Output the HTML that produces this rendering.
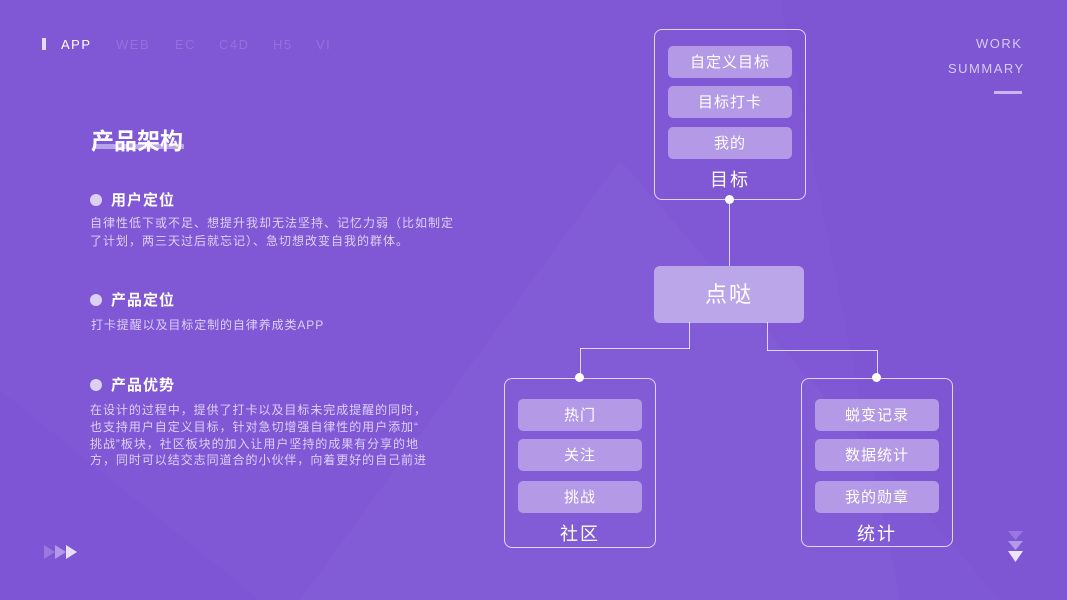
<!DOCTYPE html>
<html><head><meta charset="utf-8"><style>
*{margin:0;padding:0;box-sizing:border-box}
body{width:1067px;height:600px;overflow:hidden;background:#8058d6;font-family:"Liberation Sans","Noto Sans CJK SC",sans-serif;position:relative;color:#fff}
.a{position:absolute}
.box{position:absolute;border:1px solid rgba(255,255,255,.75);border-radius:8px}
.it{position:absolute;width:124px;height:32px;background:#b399e6;border-radius:5px;color:#fff;font-size:15px;text-align:center;line-height:33px;letter-spacing:1px}
.lb{position:absolute;width:100%;text-align:center;font-size:18px;letter-spacing:2px}
.dot{position:absolute;width:9px;height:9px;border-radius:50%;background:#fff}
.ln{position:absolute;background:rgba(255,255,255,.75)}
.h{font-size:15px;font-weight:bold;letter-spacing:1px}
.b{width:12px;height:12px;border-radius:50%;background:#dcd0f5;display:inline-block;margin-right:9px;vertical-align:-1px}
.p{font-size:12px;color:#ddd0f5;line-height:18px;letter-spacing:0.9px;white-space:nowrap}
.n{position:absolute;top:37px;font-size:13px;letter-spacing:1.5px;color:#9372dc}
</style></head><body>
<svg class="a" style="left:0;top:0" width="1067" height="600">
<polygon points="620,160 1000,600 300,600" fill="#8760da" opacity=".35"/>
<polygon points="780,0 1067,0 1067,600 900,600" fill="#7a52d2" opacity=".35"/>
<polygon points="0,390 260,600 0,600" fill="#7a52d2" opacity=".4"/>
</svg>
<div class="a" style="left:42px;top:38px;width:4px;height:12px;background:#e6dcf8"></div>
<div class="n" style="left:61px;color:#fff">APP</div>
<div class="n" style="left:116px">WEB</div>
<div class="n" style="left:175px">EC</div>
<div class="n" style="left:219px">C4D</div>
<div class="n" style="left:273px">H5</div>
<div class="n" style="left:316px">VI</div>
<div class="a" style="left:976px;top:36px;font-size:13px;letter-spacing:1.5px;color:#d8cbf3">WORK</div>
<div class="a" style="left:948px;top:61px;font-size:13px;letter-spacing:1.5px;color:#d8cbf3">SUMMARY</div>
<div class="a" style="left:994px;top:91px;width:28px;height:3px;background:#c8b5f0"></div>
<div class="a" style="left:93px;top:144px;width:91px;height:5px;background:#b9a2ea"></div>
<div class="a" style="left:91px;top:122px;font-size:23px;font-weight:bold;letter-spacing:0">产品架构</div>
<div class="a h" style="left:90px;top:189px"><span class="b"></span>用户定位</div>
<div class="a p" style="left:90px;top:214px;letter-spacing:1px">自律性低下或不足、想提升我却无法坚持、记忆力弱（比如制定<br>了计划，两三天过后就忘记）、急切想改变自我的群体。</div>
<div class="a h" style="left:90px;top:289px"><span class="b"></span>产品定位</div>
<div class="a p" style="left:91px;top:316px">打卡提醒以及目标定制的自律养成类APP</div>
<div class="a h" style="left:90px;top:374px"><span class="b"></span>产品优势</div>
<div class="a p" style="left:90px;top:402px;line-height:16.8px;letter-spacing:0.08em">在设计的过程中，提供了打卡以及目标未完成提醒的同时，<br>也支持用户自定义目标，针对急切增强自律性的用户添加“<br>挑战”板块，社区板块的加入让用户坚持的成果有分享的地<br>方，同时可以结交志同道合的小伙伴，向着更好的自己前进</div>
<svg class="a" style="left:44px;top:544px" width="36" height="16"><polygon points="0,1 11,8 0,15" fill="#9a78e0"/><polygon points="11,1 22,8 11,15" fill="#b39ae8"/><polygon points="22,1 33,8 22,15" fill="#e8e0fa"/></svg>
<svg class="a" style="left:1006px;top:530px" width="20" height="34"><polygon points="2,1 17,1 9.5,10" fill="#9a78e0"/><polygon points="2,11 17,11 9.5,20" fill="#b39ae8"/><polygon points="2,21 17,21 9.5,32" fill="#ece4fb"/></svg>
<div class="box" style="left:654px;top:29px;width:152px;height:171px">
<div class="it" style="left:13px;top:16px">自定义目标</div>
<div class="it" style="left:13px;top:56px">目标打卡</div>
<div class="it" style="left:13px;top:97px">我的</div>
<div class="lb" style="top:136px">目标</div></div>
<div class="dot" style="left:725px;top:195px"></div>
<div class="ln" style="left:729px;top:200px;width:1px;height:66px"></div>
<div class="a" style="left:654px;top:266px;width:150px;height:57px;background:#bca6ea;border-radius:6px;text-align:center;line-height:57px;font-size:22px;letter-spacing:2px">点哒</div>
<div class="ln" style="left:689px;top:322px;width:1px;height:27px"></div>
<div class="ln" style="left:580px;top:348px;width:110px;height:1px"></div>
<div class="ln" style="left:580px;top:348px;width:1px;height:30px"></div>
<div class="ln" style="left:767px;top:322px;width:1px;height:29px"></div>
<div class="ln" style="left:767px;top:350px;width:110px;height:1px"></div>
<div class="ln" style="left:877px;top:350px;width:1px;height:28px"></div>
<div class="box" style="left:504px;top:378px;width:152px;height:170px">
<div class="it" style="left:13px;top:20px">热门</div>
<div class="it" style="left:13px;top:60px">关注</div>
<div class="it" style="left:13px;top:102px">挑战</div>
<div class="lb" style="top:141px">社区</div></div>
<div class="box" style="left:801px;top:378px;width:152px;height:169px">
<div class="it" style="left:13px;top:20px">蜕变记录</div>
<div class="it" style="left:13px;top:60px">数据统计</div>
<div class="it" style="left:13px;top:102px">我的勋章</div>
<div class="lb" style="top:141px">统计</div></div>
<div class="dot" style="left:575px;top:373px"></div>
<div class="dot" style="left:872px;top:373px"></div>
</body></html>
